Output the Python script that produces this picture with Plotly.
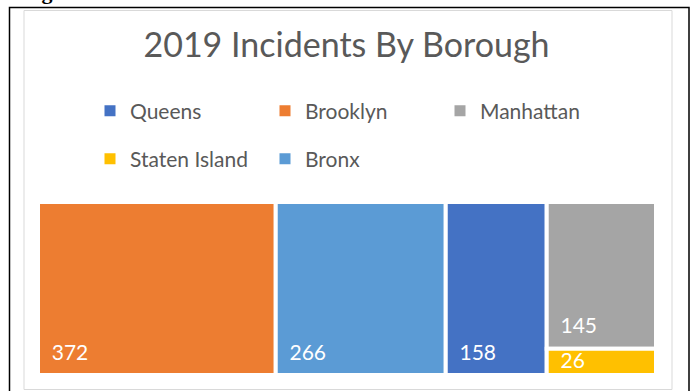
import plotly.graph_objects as go

W, H = 693, 391

# Incident counts per borough (2019)
boroughs = ["Queens", "Brooklyn", "Manhattan", "Staten Island", "Bronx"]
incidents = [158, 372, 145, 26, 266]
colors = ["#4472C4", "#ED7D31", "#A5A5A5", "#FFC000", "#5B9BD5"]

FONT = "Lato"
GREY_TXT = "#595959"


def px_x(x):
    return x / W


def px_y(y):
    return 1 - y / H


# value labels sit in a 21px span; the small base font adds a short spacer line
# underneath so the numbers clear the bottom edge of each tile.  Very thin tiles
# get the label without the spacer.
total = sum(incidents)
label_big = "<span style='font-size:21px'>&nbsp;&nbsp;%{value}</span><br> "
label_thin = "<span style='font-size:21px'>&nbsp;&nbsp;%{value}</span>"
templates = [label_thin if v / total < 0.05 else label_big for v in incidents]

fig = go.Figure()

fig.add_trace(go.Treemap(
    labels=boroughs,
    parents=[""] * len(boroughs),
    values=incidents,
    marker=dict(colors=colors, line=dict(color="white", width=4),
                pad=dict(t=0, l=0, r=0, b=0)),
    textinfo="value",
    texttemplate=templates,
    textposition="bottom left",
    textfont=dict(family=FONT, size=8, color="white"),
    sort=True,
    tiling=dict(packing="squarify", squarifyratio=1, pad=0),
    pathbar=dict(visible=False),
    hoverinfo="label+value",
    domain=dict(x=[px_x(38), px_x(656)], y=[px_y(375), px_y(202)]),
))

# legend keys: first row in legend, second row in legend2
for i, (name, col) in enumerate(zip(boroughs, colors)):
    fig.add_trace(go.Scatter(
        x=[None], y=[None], mode="markers", name=name,
        marker=dict(symbol="square", size=11, color=col),
        legend="legend" if i < 3 else "legend2",
        showlegend=True,
    ))

legend_common = dict(
    orientation="h", xanchor="left", yanchor="middle",
    entrywidth=130, entrywidthmode="pixels",
    font=dict(family=FONT, size=21, color=GREY_TXT),
    bgcolor="rgba(0,0,0,0)", borderwidth=0,
    traceorder="normal", itemclick=False, itemdoubleclick=False,
)

fig.update_layout(
    width=W, height=H,
    margin=dict(l=0, r=0, t=0, b=0),
    paper_bgcolor="white", plot_bgcolor="white",
    xaxis=dict(visible=False), yaxis=dict(visible=False),
    uniformtext=dict(minsize=8, mode="show"),
    title=dict(
        text="2019 Incidents By Borough",
        x=0.5, xanchor="center", xref="paper",
        y=px_y(45), yanchor="middle", yref="paper",
        font=dict(family=FONT, size=34, color=GREY_TXT),
    ),
    legend=dict(x=px_x(90), y=px_y(111), **legend_common),
    legend2=dict(x=px_x(90), y=px_y(159), **legend_common),
    shapes=[
        # page frame
        dict(type="rect", xref="paper", yref="paper",
             x0=px_x(9.5), x1=px_x(689), y0=px_y(400), y1=px_y(7.5),
             line=dict(color="black", width=1.5), layer="below"),
        # chart area border
        dict(type="rect", xref="paper", yref="paper",
             x0=px_x(24), x1=px_x(672), y0=px_y(389.5), y1=px_y(10.5),
             line=dict(color="#D9D9D9", width=1), layer="below"),
    ],
    annotations=[
        dict(text="<b>Figure 2</b>", xref="paper", yref="paper",
             x=px_x(20), y=px_y(6), xanchor="left", yanchor="bottom",
             showarrow=False,
             font=dict(family="Liberation Serif", size=22, color="black")),
    ],
)

fig.write_html("out.html")
